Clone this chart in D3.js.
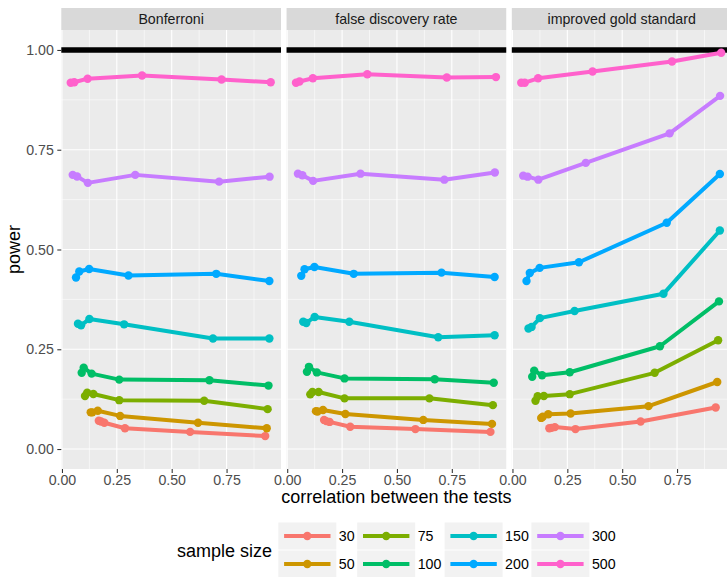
<!DOCTYPE html>
<html>
<head>
<meta charset="utf-8">
<script src="https://cdn.jsdelivr.net/npm/d3@7"></script>
<style>
  html, body { margin: 0; padding: 0; background: #ffffff; }
  svg { display: block; font-family: "Liberation Sans", Arial, Helvetica, sans-serif; }
</style>
</head>
<body>
<svg id="chart" width="727" height="577"></svg>
<script>
// Facet panels (multiple-testing method)
const methods = ["Bonferroni", "false discovery rate", "improved gold standard"];

// Sample sizes and their hue colours
const sampleSizes = [30, 50, 75, 100, 150, 200, 300, 500];
const sizeColors = ["#F8766D", "#CD9600", "#7CAE00", "#00BE67", "#00BFC4", "#00A9FF", "#C77CFF", "#FF61CC"];

// Correlation between the tests, one row per sample size
const correlations = [
  [0.168, 0.178, 0.193, 0.287, 0.584, 0.926],
  [0.131, 0.138, 0.163, 0.265, 0.620, 0.933],
  [0.105, 0.115, 0.143, 0.261, 0.648, 0.937],
  [0.090, 0.099, 0.135, 0.261, 0.672, 0.941],
  [0.073, 0.087, 0.125, 0.283, 0.688, 0.945],
  [0.064, 0.079, 0.124, 0.303, 0.703, 0.945],
  [0.049, 0.069, 0.118, 0.334, 0.716, 0.946],
  [0.040, 0.056, 0.117, 0.365, 0.727, 0.951]
];

// Power, one row per sample size, for each method
const powerBonferroni = [
  [0.071, 0.069, 0.066, 0.052, 0.043, 0.0325],
  [0.092, 0.092, 0.096, 0.083, 0.066, 0.052],
  [0.133, 0.141, 0.138, 0.1225, 0.121, 0.100],
  [0.191, 0.204, 0.189, 0.174, 0.1725, 0.159],
  [0.314, 0.310, 0.326, 0.3125, 0.277, 0.277],
  [0.430, 0.445, 0.451, 0.435, 0.439, 0.421],
  [0.687, 0.683, 0.667, 0.687, 0.670, 0.6825],
  [0.918, 0.919, 0.928, 0.936, 0.926, 0.919]
];
const powerFDR = [
  [0.073, 0.070, 0.068, 0.056, 0.050, 0.043],
  [0.095, 0.094, 0.098, 0.088, 0.073, 0.063],
  [0.137, 0.143, 0.143, 0.127, 0.127, 0.110],
  [0.1935, 0.206, 0.192, 0.177, 0.175, 0.166],
  [0.319, 0.316, 0.331, 0.319, 0.280, 0.285],
  [0.434, 0.4506, 0.456, 0.439, 0.442, 0.431],
  [0.690, 0.686, 0.672, 0.690, 0.675, 0.693],
  [0.918, 0.921, 0.929, 0.939, 0.931, 0.932]
];
const powerGold = [
  [0.052, 0.053, 0.055, 0.050, 0.069, 0.104],
  [0.078, 0.081, 0.087, 0.089, 0.1075, 0.168],
  [0.121, 0.1325, 0.133, 0.1375, 0.191, 0.2725],
  [0.181, 0.196, 0.185, 0.1925, 0.2575, 0.370],
  [0.302, 0.306, 0.328, 0.346, 0.389, 0.5475],
  [0.421, 0.441, 0.454, 0.468, 0.567, 0.689],
  [0.685, 0.6825, 0.675, 0.717, 0.791, 0.885],
  [0.918, 0.918, 0.929, 0.946, 0.971, 0.993]
];
const powerByMethod = [powerBonferroni, powerFDR, powerGold];

// Reference line for full power
const targetPower = 1.0;

// Axis ticks
const xTicks = [0, 0.25, 0.5, 0.75];
const xMinor = [0.125, 0.375, 0.625, 0.875];
const yTicks = [0, 0.25, 0.5, 0.75, 1.0];
const yMinor = [0.125, 0.375, 0.625, 0.875];

// ---- layout ----
const svg = d3.select("#chart");
const panelLeft = 61.3, panelW = 219.7, panelGap = 5.55;
const stripTop = 8, stripH = 22;
const panelTop = stripTop + stripH, panelBottom = 469;
const smallFont = 14.2, titleFont = 18;

const x = d3.scaleLinear().domain([-0.003, 0.998]).range([0, panelW]);
const y = d3.scaleLinear().domain([-0.05, 1.05]).range([panelBottom, panelTop]);

const line = d3.line().x(d => x(d.r)).y(d => y(d.p));

methods.forEach((method, mi) => {
  const g = svg.append("g").attr("transform", `translate(${panelLeft + mi * (panelW + panelGap)},0)`);

  // strip
  g.append("rect").attr("x", 0).attr("y", stripTop).attr("width", panelW).attr("height", stripH).attr("fill", "#D9D9D9");
  g.append("text").attr("x", panelW / 2).attr("y", stripTop + stripH / 2 + 5)
    .attr("text-anchor", "middle").attr("font-size", smallFont).attr("fill", "#1A1A1A").text(method);

  // panel background
  g.append("rect").attr("x", 0).attr("y", panelTop).attr("width", panelW).attr("height", panelBottom - panelTop).attr("fill", "#EBEBEB");

  // grid
  const grid = g.append("g");
  grid.selectAll(".ymin").data(yMinor).join("line")
    .attr("x1", 0).attr("x2", panelW).attr("y1", d => y(d)).attr("y2", d => y(d))
    .attr("stroke", "#ffffff").attr("stroke-width", 0.55);
  grid.selectAll(".xmin").data(xMinor).join("line")
    .attr("y1", panelTop).attr("y2", panelBottom).attr("x1", d => x(d)).attr("x2", d => x(d))
    .attr("stroke", "#ffffff").attr("stroke-width", 0.55);
  grid.selectAll(".ymaj").data(yTicks).join("line")
    .attr("x1", 0).attr("x2", panelW).attr("y1", d => y(d)).attr("y2", d => y(d))
    .attr("stroke", "#ffffff").attr("stroke-width", 1.1);
  grid.selectAll(".xmaj").data(xTicks).join("line")
    .attr("y1", panelTop).attr("y2", panelBottom).attr("x1", d => x(d)).attr("x2", d => x(d))
    .attr("stroke", "#ffffff").attr("stroke-width", 1.1);

  // full-power reference line
  g.append("line").attr("x1", 0).attr("x2", panelW)
    .attr("y1", y(targetPower)).attr("y2", y(targetPower))
    .attr("stroke", "#000000").attr("stroke-width", 5.5);

  // series
  const series = sampleSizes.map((n, si) => ({
    n, color: sizeColors[si],
    pts: d3.zip(correlations[si], powerByMethod[mi][si]).map(([r, p]) => ({ r, p }))
  }));
  g.append("g").selectAll("path").data(series).join("path")
    .attr("d", d => line(d.pts)).attr("fill", "none")
    .attr("stroke", d => d.color).attr("stroke-width", 4)
    .attr("stroke-linejoin", "round").attr("stroke-linecap", "butt");
  series.forEach(s => {
    g.append("g").selectAll("circle").data(s.pts).join("circle")
      .attr("cx", d => x(d.r)).attr("cy", d => y(d.p)).attr("r", 4.2).attr("fill", s.color);
  });

  // x axis
  const xa = g.append("g").attr("transform", `translate(0,${panelBottom})`)
    .call(d3.axisBottom(x).tickValues(xTicks).tickFormat(d3.format(".2f")).tickSize(4).tickPadding(1.5));
  xa.select(".domain").remove();
  xa.selectAll(".tick line").attr("stroke", "#333333").attr("stroke-width", 1.07);
  xa.selectAll(".tick text").attr("fill", "#4D4D4D").attr("font-size", smallFont).attr("font-family", null);

  // y axis on first panel only
  if (mi === 0) {
    const ya = g.append("g")
      .call(d3.axisLeft(y).tickValues(yTicks).tickFormat(d3.format(".2f")).tickSize(4).tickPadding(3.5));
    ya.select(".domain").remove();
    ya.selectAll(".tick line").attr("stroke", "#333333").attr("stroke-width", 1.07);
    ya.selectAll(".tick text").attr("fill", "#4D4D4D").attr("font-size", smallFont).attr("font-family", null);
  }
});

// axis titles
const panelsRight = panelLeft + 3 * panelW + 2 * panelGap;
svg.append("text").attr("x", (panelLeft + panelsRight) / 2).attr("y", 503)
  .attr("text-anchor", "middle").attr("font-size", titleFont).attr("fill", "#000000")
  .text("correlation between the tests");
svg.append("text").attr("transform", `translate(20,${(panelTop + panelBottom) / 2}) rotate(-90)`)
  .attr("text-anchor", "middle").attr("font-size", titleFont).attr("fill", "#000000").text("power");

// legend: two rows, filled column by column
const legend = svg.append("g");
legend.append("text").attr("x", 177).attr("y", 556.5).attr("font-size", titleFont).attr("fill", "#000000").text("sample size");
const colX = [278.3, 357.2, 444.6, 531.4];
const rowY = [522.5, 550.5];
const keyW = 58, keyH = 27;
sampleSizes.forEach((n, i) => {
  const cx = colX[Math.floor(i / 2)], ry = rowY[i % 2];
  const k = legend.append("g").attr("transform", `translate(${cx},${ry})`);
  k.append("rect").attr("width", keyW).attr("height", keyH).attr("fill", "#F2F2F2");
  k.append("line").attr("x1", keyW * 0.1).attr("x2", keyW * 0.9).attr("y1", keyH / 2).attr("y2", keyH / 2)
    .attr("stroke", sizeColors[i]).attr("stroke-width", 4);
  k.append("circle").attr("cx", keyW / 2).attr("cy", keyH / 2).attr("r", 4.2).attr("fill", sizeColors[i]);
  k.append("text").attr("x", keyW + 2.5).attr("y", keyH / 2 + 5).attr("font-size", smallFont).attr("fill", "#000000").text(n);
});
</script>
</body>
</html>
